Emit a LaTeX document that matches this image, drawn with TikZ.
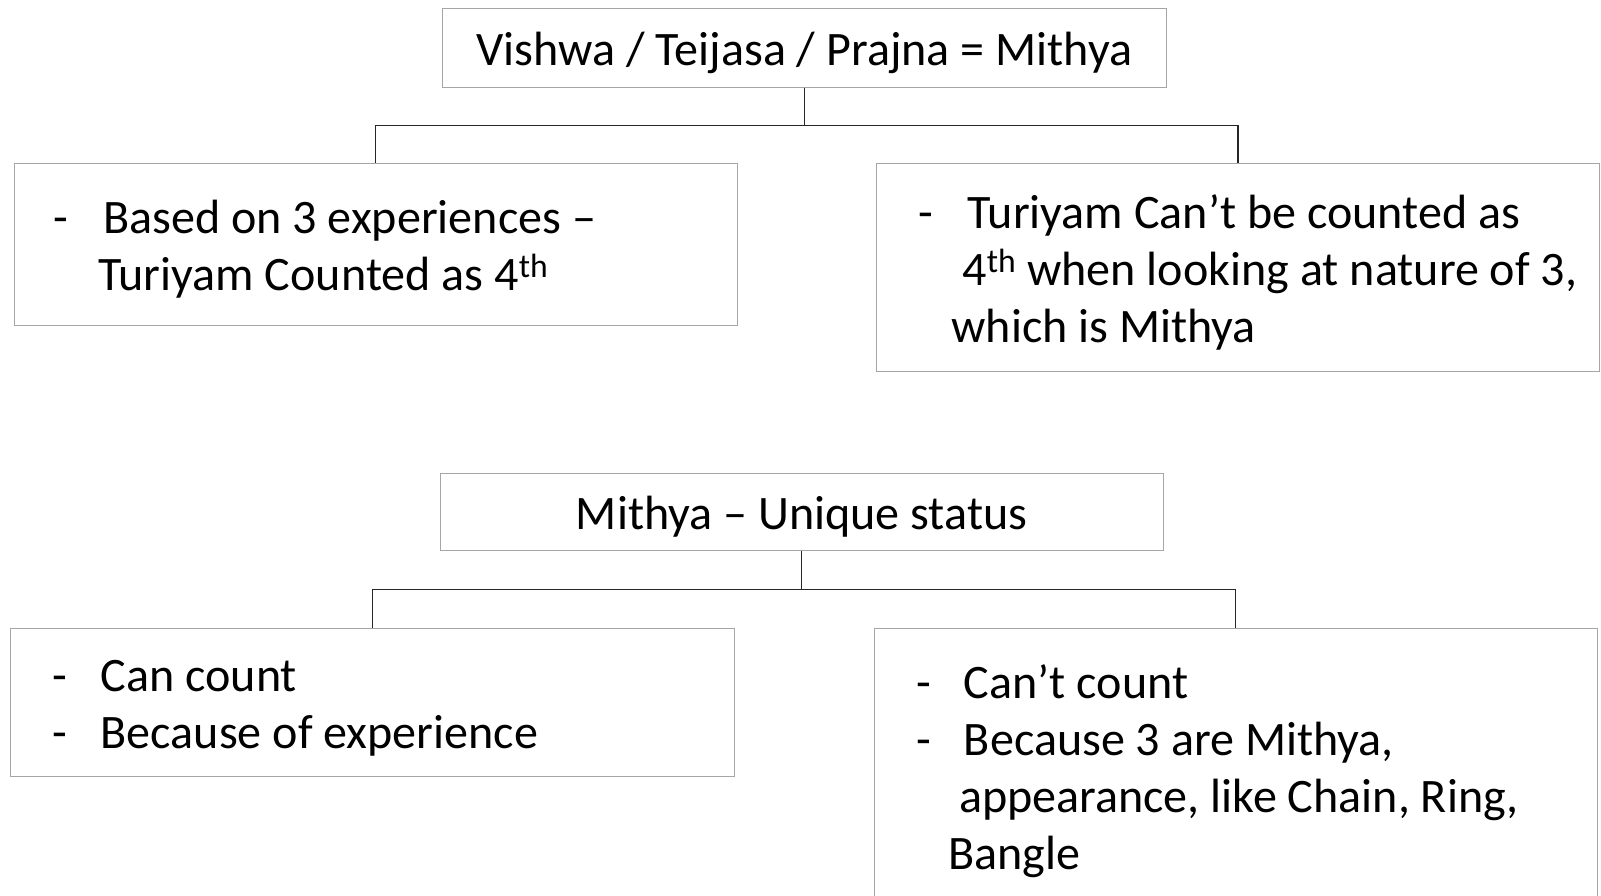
\documentclass[tikz,border=0pt]{standalone}
\usepackage{fontspec}
\setmainfont{Carlito}
\usepackage{xcolor}
\usepackage{tikz}
\usetikzlibrary{positioning}

\definecolor{boxgray}{HTML}{A6A6A6}
\definecolor{linkgray}{HTML}{262626}

\begin{document}
\begin{tikzpicture}[
    titlebox/.style={rectangle, draw=boxgray, line width=0.7pt, align=flush center, inner sep=0pt,
        text height=1.2cm, text depth=0.3cm, font=\fontsize{34.2}{40.5}\selectfont},
    notebox/.style={rectangle, draw=boxgray, line width=0.7pt, align=flush left, inner ysep=0pt,
        inner xsep=1.05cm, text width=15.98cm, font=\fontsize{34.2}{40.5}\selectfont,
        execute at begin node={\rule{0pt}{1.1cm}}},
    link/.style={draw=linkgray, line width=1.1pt}
]
\useasboundingbox (0,0) rectangle (40.025,-22.4);

% Upper group
\node[titlebox, minimum width=18.08cm, minimum height=1.98cm] (vishwa) at (20.11,-1.19) {Vishwa / Teijasa / Prajna = Mithya};
\node[notebox, inner xsep=0.98cm, text width=16.12cm, minimum height=4.05cm] (counted) at (9.39,-6.1)
    {\makebox[1.25cm][l]{-}Based on 3 experiences –\\
     \hspace*{1.125cm}Turiyam Counted as 4\textsuperscript{th}};
\node[notebox, minimum height=5.2cm] (notcounted) at (30.95,-6.675)
    {\makebox[1.225cm][l]{-}Turiyam Can’t be counted as\\
     \hspace*{1.1cm}\mbox{4\textsuperscript{th} when looking at nature of 3,}\\
     \hspace*{0.825cm}which is Mithya};

% Lower group
\node[titlebox, minimum width=18.08cm, minimum height=1.93cm] (unique) at (20.04,-12.79) {Mithya – Unique status};
\node[notebox, minimum height=3.7cm] (cancount) at (9.31,-17.55)
    {\makebox[1.2cm][l]{-}Can count\\
     \makebox[1.2cm][l]{-}Because of experience};
\node[notebox, minimum height=6.9cm] (cantcount) at (30.89,-19.15)
    {\makebox[1.2cm][l]{-}Can’t count\\
     \makebox[1.2cm][l]{-}Because 3 are Mithya,\\
     \hspace*{1.075cm}\mbox{appearance, like Chain, Ring,}\\
     \hspace*{0.81cm}Bangle};

% Tree links
\draw[link] (vishwa.south) -- ++(0,-0.94) -| (counted.north);
\draw[link] (vishwa.south) -- ++(0,-0.94) -| (notcounted.north);
\draw[link] (unique.south) -- ++(0,-0.97) -| (cancount.north);
\draw[link] (unique.south) -- ++(0,-0.97) -| (cantcount.north);

\end{tikzpicture}
\end{document}
